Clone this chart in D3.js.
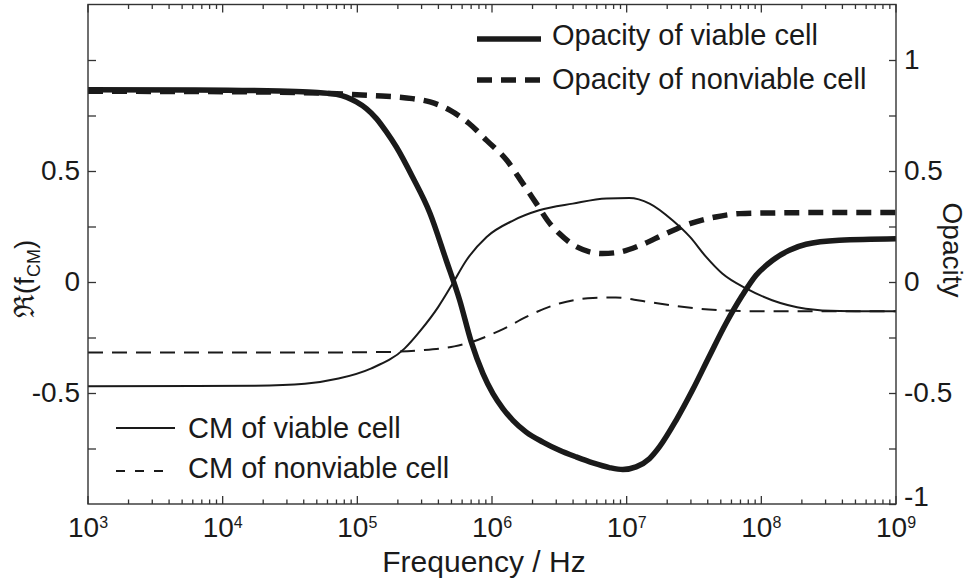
<!DOCTYPE html>
<html>
<head>
<meta charset="utf-8">
<script src="https://cdn.jsdelivr.net/npm/d3@7/dist/d3.min.js"></script>
<style>
  html, body { margin: 0; padding: 0; background: #fff; }
  svg { display: block; font-family: "Liberation Sans", Arial, Helvetica, sans-serif; }
</style>
</head>
<body>
<svg id="chart" width="970" height="581"></svg>
<script>
// Frequencies are stored as log10(f / Hz); values share one scale for both axes.

// Opacity of viable cell
const opViableLogF = [3, 3.8, 4.42, 4.671, 4.845, 4.919, 4.993, 5.067, 5.142, 5.216, 5.29, 5.41, 5.54, 5.66, 5.76, 5.846, 5.933, 6.007, 6.081, 6.155, 6.254, 6.378, 6.501, 6.625, 6.749, 6.872, 6.971, 7.07, 7.169, 7.243, 7.367, 7.488, 7.611, 7.738, 7.859, 7.961, 8.084, 8.208, 8.332, 8.579, 9];
const opViable = [0.866, 0.865, 0.86, 0.855, 0.845, 0.833, 0.811, 0.781, 0.736, 0.676, 0.608, 0.473, 0.309, 0.098, -0.082, -0.27, -0.413, -0.503, -0.57, -0.623, -0.676, -0.721, -0.758, -0.788, -0.815, -0.836, -0.845, -0.833, -0.796, -0.743, -0.623, -0.488, -0.338, -0.186, -0.06, 0.03, 0.098, 0.143, 0.17, 0.188, 0.195];

// Opacity of nonviable cell
const opNonviableLogF = [3, 3.8, 4.42, 4.8, 5.1, 5.41, 5.54, 5.69, 5.83, 5.96, 6.11, 6.23, 6.33, 6.43, 6.5, 6.63, 6.82, 6.95, 7.1, 7.29, 7.47, 7.66, 7.84, 8.08, 8.5, 9];
const opNonviable = [0.859, 0.858, 0.855, 0.849, 0.84, 0.826, 0.811, 0.773, 0.714, 0.638, 0.548, 0.443, 0.353, 0.263, 0.218, 0.158, 0.128, 0.135, 0.165, 0.218, 0.263, 0.293, 0.308, 0.311, 0.313, 0.313];

// Clausius-Mossotti factor, viable cell
const cmViableLogF = [3, 3.8, 4.24, 4.61, 4.86, 5.1, 5.35, 5.47, 5.6, 5.7, 5.81, 5.96, 6.16, 6.35, 6.6, 6.85, 7.02, 7.17, 7.34, 7.47, 7.59, 7.71, 7.89, 8.08, 8.33, 8.58, 9];
const cmViable = [-0.47, -0.469, -0.467, -0.458, -0.435, -0.39, -0.3, -0.218, -0.113, -0.015, 0.098, 0.203, 0.278, 0.323, 0.353, 0.376, 0.378, 0.353, 0.278, 0.203, 0.113, 0.038, -0.03, -0.082, -0.12, -0.131, -0.132];

// Clausius-Mossotti factor, nonviable cell
const cmNonviableLogF = [3, 3.8, 4.57, 5.23, 5.47, 5.72, 5.85, 6.01, 6.09, 6.25, 6.5, 6.75, 6.92, 7.12, 7.37, 7.61, 7.86, 8.33, 9];
const cmNonviable = [-0.318, -0.318, -0.318, -0.315, -0.308, -0.29, -0.27, -0.232, -0.21, -0.158, -0.097, -0.072, -0.07, -0.086, -0.108, -0.124, -0.131, -0.132, -0.132];

// Axis ticks and labels
const xDecades = [3, 4, 5, 6, 7, 8, 9];
const yTicks = [-0.75, -0.5, -0.25, 0, 0.25, 0.5, 0.75, 1];
const yLeftLabels = [0.5, 0, -0.5];
const yRightTicks = [-1, -0.75, -0.5, -0.25, 0, 0.25, 0.5, 0.75, 1];
const yRightLabels = [1, 0.5, 0, -0.5, -1];

const svg = d3.select("#chart");
const L = 88, R = 896, T = 4.5, B = 504;
const ink = "#1a1a1a", frame = "#333";

const x = d3.scaleLog().domain([1e3, 1e9]).range([L, R]);
const y = d3.scaleLinear().domain([-1, 1.25]).range([B, T]);

// Curves
const series = [
  { f: cmNonviableLogF, v: cmNonviable, w: 2, dash: "15,9" },
  { f: cmViableLogF, v: cmViable, w: 2, dash: null },
  { f: opNonviableLogF, v: opNonviable, w: 5.5, dash: "15,9" },
  { f: opViableLogF, v: opViable, w: 5.5, dash: null }
];
const line = d3.line()
  .x(d => x(Math.pow(10, d[0])))
  .y(d => y(d[1]))
  .curve(d3.curveMonotoneX);

svg.append("clipPath").attr("id", "plotclip")
  .append("rect").attr("x", L).attr("y", T).attr("width", R - L).attr("height", B - T);

const plot = svg.append("g").attr("clip-path", "url(#plotclip)");
series.forEach(s => {
  plot.append("path")
    .datum(s.f.map((f, i) => [f, s.v[i]]))
    .attr("d", line)
    .attr("fill", "none")
    .attr("stroke", ink)
    .attr("stroke-width", s.w)
    .attr("stroke-dasharray", s.dash)
    .attr("stroke-linejoin", "round");
});

// Frame
svg.append("rect")
  .attr("x", L).attr("y", T).attr("width", R - L).attr("height", B - T)
  .attr("fill", "none").attr("stroke", frame).attr("stroke-width", 1.4);

// Left axis, ticks pointing inward
const leftAxis = d3.axisLeft(y).tickValues(yTicks).tickSize(-8).tickPadding(8)
  .tickFormat(d => yLeftLabels.includes(d) ? String(d) : "");
const gl = svg.append("g").attr("transform", `translate(${L},0)`).call(leftAxis);

// Right axis, ticks pointing inward
const rightAxis = d3.axisRight(y).tickValues(yRightTicks).tickSize(-7).tickPadding(8)
  .tickFormat(d => yRightLabels.includes(d) ? String(d) : "");
const gr = svg.append("g").attr("transform", `translate(${R},0)`).call(rightAxis);

[gl, gr].forEach(g => {
  g.select(".domain").remove();
  g.selectAll(".tick line").attr("stroke", frame).attr("stroke-width", 1.3);
  g.selectAll(".tick text").attr("fill", ink).attr("font-size", 28)
    .attr("font-family", "Liberation Sans, Arial, sans-serif");
});
gr.selectAll(".tick text").filter(d => d === -1).attr("dy", "0.05em");

// Bottom and top axes with log minor ticks, all pointing inward
const xt = x.ticks();
const isMajor = d => Math.abs(Math.log10(d) - Math.round(Math.log10(d))) < 1e-9;
const tickG = svg.append("g").attr("stroke", frame).attr("stroke-width", 1.3);
xt.forEach(d => {
  const len = isMajor(d) ? 8 : 4.5;
  const px = x(d);
  tickG.append("line").attr("x1", px).attr("x2", px).attr("y1", B).attr("y2", B - len);
  tickG.append("line").attr("x1", px).attr("x2", px).attr("y1", T).attr("y2", T + len);
});

const xl = svg.append("g").attr("fill", ink).attr("text-anchor", "middle");
xDecades.forEach(e => {
  const t = xl.append("text").attr("x", x(Math.pow(10, e))).attr("y", 537).attr("font-size", 28);
  t.append("tspan").text("10");
  t.append("tspan").attr("font-size", 16).attr("dy", -9).text(e);
});

// Axis titles
svg.append("text").attr("x", 484).attr("y", 572)
  .attr("text-anchor", "middle").attr("font-size", 30).attr("fill", ink)
  .text("Frequency / Hz");

svg.append("text").attr("transform", "translate(943,250) rotate(90)")
  .attr("text-anchor", "middle").attr("font-size", 28).attr("fill", ink)
  .text("Opacity");

const yl = svg.append("text").attr("transform", "translate(34,279) rotate(-90)")
  .attr("text-anchor", "middle").attr("font-size", 28).attr("fill", ink);
yl.append("tspan").text("\u211C(f");
yl.append("tspan").attr("font-size", 18).attr("dy", 6).text("CM");
yl.append("tspan").attr("dy", -6).text(")");

// Legends
function legendRow(g, x1, x2, ly, w, dash, label, tx, ty) {
  g.append("line").attr("x1", x1).attr("x2", x2).attr("y1", ly).attr("y2", ly)
    .attr("stroke", ink).attr("stroke-width", w).attr("stroke-dasharray", dash);
  g.append("text").attr("x", tx).attr("y", ty).attr("font-size", 29).attr("fill", ink).text(label);
}
const lg = svg.append("g");
legendRow(lg, 477, 541, 39, 5.5, null, "Opacity of viable cell", 552, 45);
legendRow(lg, 477, 541, 80, 5.5, "15,9", "Opacity of nonviable cell", 552, 89);
legendRow(lg, 116, 175, 428, 2, null, "CM of viable cell", 188, 438);
legendRow(lg, 116, 163, 471, 2, "9,10", "CM of nonviable cell", 188, 478);
</script>
</body>
</html>
